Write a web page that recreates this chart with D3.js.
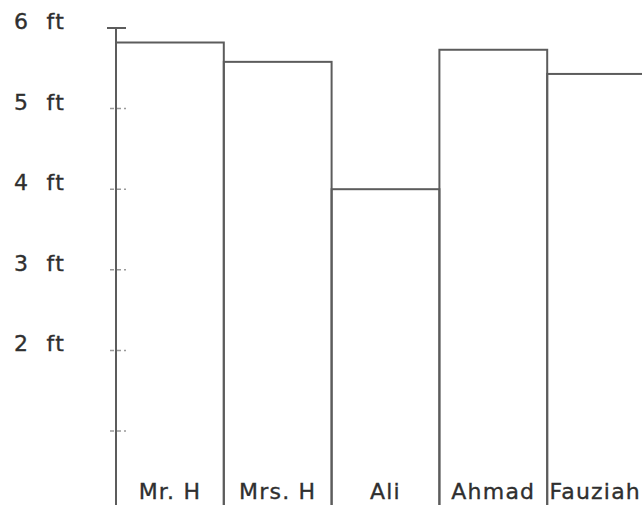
<!DOCTYPE html>
<html>
<head>
<meta charset="utf-8">
<script src="https://cdn.jsdelivr.net/npm/d3@7"></script>
<style>
  body { margin: 0; background: #fff; }
  svg { display: block; }
  text { font-family: "DejaVu Sans", sans-serif; fill: #2f2f2f; stroke: #2f2f2f; stroke-width: 0.35px; }
</style>
</head>
<body>
<div id="graphicContainer"></div>
<script>

// heights in feet
const people = ["Mr. H", "Mrs. H", "Ali", "Ahmad", "Fauziah"]
const heights = [5.82, 5.58, 4.0, 5.73, 5.43]
const tickValues = [1, 2, 3, 4, 5, 6]
const tickLabels = ["", "2  ft", "3  ft", "4  ft", "5  ft", "6  ft"]

const width = 642
const height = 505
const lineColour = "#5c5c5c"

const svg = d3.select("#graphicContainer")
  .append("svg")
  .attr("width", width)
  .attr("height", height)

// 0 ft sits just below the bottom edge of the picture
const y = d3.scaleLinear()
  .domain([0, 6])
  .range([511.6, 28])

// last bar runs off the right edge
const x = d3.scaleBand()
  .domain(people)
  .range([116, 655])
  .padding(0)

// bars: open outlines sharing edges
svg.selectAll(".bar")
  .data(people)
  .enter()
  .append("rect")
  .attr("class", "bar")
  .attr("x", d => x(d))
  .attr("y", (d, i) => y(heights[i]))
  .attr("width", x.bandwidth())
  .attr("height", (d, i) => y(0) - y(heights[i]))
  .attr("fill", "none")
  .attr("stroke", lineColour)
  .attr("stroke-width", 2)

// axis line
svg.append("line")
  .attr("x1", x(people[0]))
  .attr("x2", x(people[0]))
  .attr("y1", y(6))
  .attr("y2", height)
  .attr("stroke", lineColour)
  .attr("stroke-width", 2)

// ticks: top one solid, the rest faint
svg.selectAll(".tick")
  .data(tickValues)
  .enter()
  .append("line")
  .attr("class", "tick")
  .attr("x1", d => d == 6 ? 107 : 110)
  .attr("x2", 126)
  .attr("y1", d => y(d))
  .attr("y2", d => y(d))
  .attr("stroke", d => d == 6 ? lineColour : "#9a9a9a")
  .attr("stroke-width", d => d == 6 ? 2 : 1.5)
  .attr("stroke-dasharray", d => d == 6 ? null : "4,3")

svg.selectAll(".tickLabel")
  .data(tickValues)
  .enter()
  .append("text")
  .attr("class", "tickLabel")
  .attr("x", 14)
  .attr("y", d => y(d) + 1)
  .style("font-size", "22px")
  .style("letter-spacing", "1.5px")
  .style("white-space", "pre")
  .text((d, i) => tickLabels[i])

// names along the bottom
svg.selectAll(".name")
  .data(people)
  .enter()
  .append("text")
  .attr("class", "name")
  .attr("x", d => x(d) + x.bandwidth() / 2)
  .attr("y", 499)
  .attr("text-anchor", "middle")
  .style("font-size", "22px")
  .style("letter-spacing", "1.2px")
  .text(d => d)
  .each(function() {
    // keep the last name inside the picture
    const box = this.getBBox()
    const over = box.x + box.width - (width - 1)
    if (over > 0) d3.select(this).attr("x", +d3.select(this).attr("x") - over)
  })

</script>
</body>
</html>
